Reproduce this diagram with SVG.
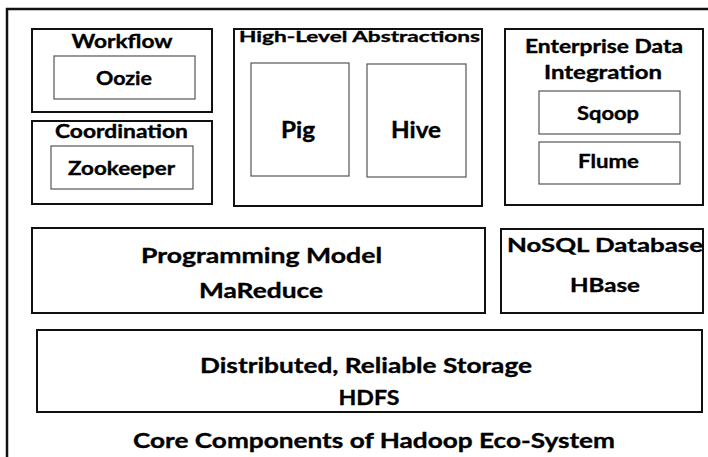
<svg xmlns="http://www.w3.org/2000/svg" width="708" height="457" viewBox="0 0 708 457">
<style>
.g{fill:#fff;stroke:#111;stroke-width:2}
.i{fill:#fff;stroke:#555;stroke-width:1.2}
text{font-family:Lato,"Open Sans","Liberation Sans",sans-serif;font-weight:bold;fill:#000;stroke:#000;stroke-width:0.35;text-anchor:middle}
</style>
<rect width="708" height="457" fill="#fff"/>
<path d="M7,457 V9 H708" fill="none" stroke="#111" stroke-width="2.5"/>
<g id="workflow">
<rect class="g" x="32" y="29" width="180" height="83"/>
<text x="122" y="48" font-size="19" textLength="101" lengthAdjust="spacingAndGlyphs">Workflow</text>
</g>
<g id="oozie">
<rect class="i" x="54" y="56" width="141" height="43"/>
<text x="124" y="85" font-size="18" textLength="56" lengthAdjust="spacingAndGlyphs">Oozie</text>
</g>
<g id="coordination">
<rect class="g" x="32" y="121" width="180" height="83"/>
<text x="121.5" y="138" font-size="18" textLength="133" lengthAdjust="spacingAndGlyphs">Coordination</text>
</g>
<g id="zookeeper">
<rect class="i" x="51" y="146" width="142" height="43"/>
<text x="121.5" y="175" font-size="19" textLength="107" lengthAdjust="spacingAndGlyphs">Zookeeper</text>
</g>
<g id="highlevel">
<rect class="g" x="234" y="29" width="248" height="177"/>
<text x="359.5" y="42" font-size="16" textLength="241" lengthAdjust="spacingAndGlyphs">High-Level Abstractions</text>
</g>
<g id="pig">
<rect class="i" x="251" y="63" width="98" height="113"/>
<text x="298" y="138" font-size="22" textLength="34" lengthAdjust="spacingAndGlyphs">Pig</text>
</g>
<g id="hive">
<rect class="i" x="367" y="64" width="99" height="113"/>
<text x="416" y="138" font-size="22" textLength="50" lengthAdjust="spacingAndGlyphs">Hive</text>
</g>
<g id="enterprise">
<rect class="g" x="505" y="29" width="198" height="176"/>
<text x="604" y="53" font-size="18" textLength="158" lengthAdjust="spacingAndGlyphs">Enterprise Data</text>
<text x="603" y="79" font-size="18" textLength="118" lengthAdjust="spacingAndGlyphs">Integration</text>
</g>
<g id="sqoop">
<rect class="i" x="539" y="91" width="141" height="43"/>
<text x="608" y="120" font-size="18" textLength="62" lengthAdjust="spacingAndGlyphs">Sqoop</text>
</g>
<g id="flume">
<rect class="i" x="539" y="142" width="141" height="42"/>
<text x="608.5" y="168" font-size="18" textLength="61" lengthAdjust="spacingAndGlyphs">Flume</text>
</g>
<g id="mapreduce">
<rect class="g" x="32" y="228" width="453" height="85"/>
<text x="261.5" y="263" font-size="21" textLength="241" lengthAdjust="spacingAndGlyphs">Programming Model</text>
<text x="261" y="298" font-size="21" textLength="124" lengthAdjust="spacingAndGlyphs">MaReduce</text>
</g>
<g id="hbase">
<rect class="g" x="501" y="229" width="202" height="84"/>
<text x="605" y="252" font-size="19" textLength="196" lengthAdjust="spacingAndGlyphs">NoSQL Database</text>
<text x="605" y="292" font-size="19" textLength="70" lengthAdjust="spacingAndGlyphs">HBase</text>
</g>
<g id="hdfs">
<rect class="g" x="37" y="330" width="665" height="82"/>
<text x="366" y="373" font-size="21" textLength="332" lengthAdjust="spacingAndGlyphs">Distributed, Reliable Storage</text>
<text x="369" y="405" font-size="21" textLength="61" lengthAdjust="spacingAndGlyphs">HDFS</text>
</g>
<g id="title">
<text x="374" y="448" font-size="21" textLength="482" lengthAdjust="spacingAndGlyphs">Core Components of Hadoop Eco-System</text>
</g>
<g id="connectors"></g>
</svg>
